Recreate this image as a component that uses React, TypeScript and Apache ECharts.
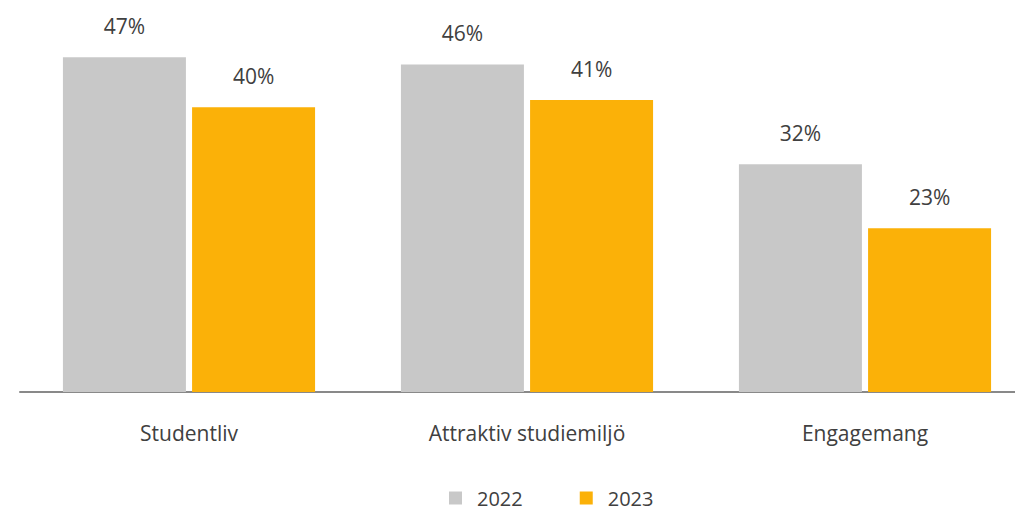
import React, { useEffect, useRef } from "react";
import * as echarts from "echarts";

const categories = ["Studentliv", "Attraktiv studiemiljö", "Engagemang"];
const values2022 = [47, 46, 32];
const values2023 = [40, 41, 23];
const seriesNames = ["2022", "2023"];

const FONT = "'Open Sans', sans-serif";
const TEXT = "#404040";

export default function App() {
  const ref = useRef<HTMLDivElement>(null);
  useEffect(() => {
    if (!ref.current) return;
    const chart = echarts.init(ref.current, null, { renderer: "svg" });
    const label = {
      show: true,
      position: "top",
      distance: 21,
      formatter: (p: any) => `${p.value}%`,
      color: TEXT,
      fontSize: 21,
      fontFamily: FONT,
    };
    chart.setOption({
      animation: false,
      grid: { left: 20, right: 0, top: 36, bottom: 121, containLabel: false },
      legend: {
        left: 449,
        top: 488,
        itemWidth: 13,
        itemHeight: 13,
        itemGap: 57,
        icon: "rect",
        padding: 0,
        textStyle: {
          color: TEXT,
          fontSize: 20,
          lineHeight: 17,
          fontFamily: FONT,
          padding: [0, 0, 0, 10],
        },
        data: seriesNames,
      },
      xAxis: {
        type: "category",
        data: categories,
        axisLine: { lineStyle: { color: "#898989", width: 2 } },
        axisTick: { show: false },
        axisLabel: { color: TEXT, fontSize: 21, fontFamily: FONT, margin: 30 },
      },
      yAxis: {
        type: "value",
        min: 0,
        max: 50,
        show: false,
        splitLine: { show: false },
      },
      series: [
        {
          name: seriesNames[0],
          type: "bar",
          data: values2022,
          itemStyle: { color: "#C8C8C8" },
          barGap: "5%",
          barCategoryGap: "25.4%",
          label,
        },
        {
          name: seriesNames[1],
          type: "bar",
          data: values2023,
          itemStyle: { color: "#FBB108" },
          label,
        },
      ],
    });
    return () => chart.dispose();
  }, []);
  return (
    <div style={{ position: "fixed", left: 0, top: 0, width: 1015, height: 513, overflow: "hidden", background: "#fff" }}>
      <div ref={ref} style={{ width: 1034, height: 513 }} />
    </div>
  );
}
